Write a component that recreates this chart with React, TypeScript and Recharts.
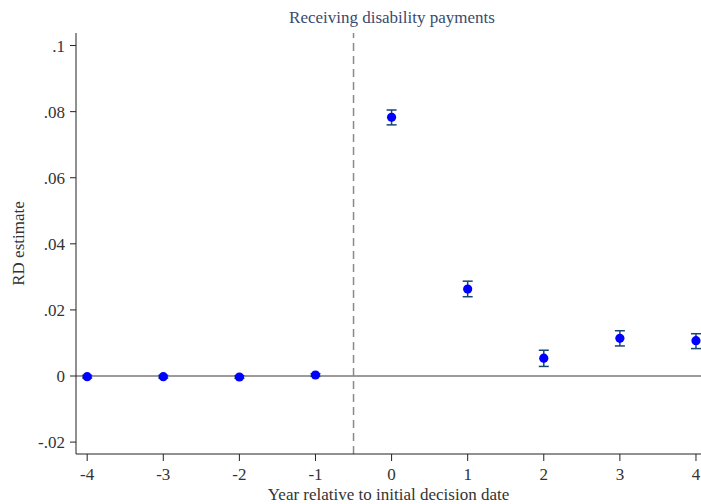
import {
  ScatterChart,
  Scatter,
  XAxis,
  YAxis,
  ReferenceLine,
  ErrorBar,
} from "recharts"

const years = [-4, -3, -2, -1, 0, 1, 2, 3, 4]
const estimates = [-0.0002, -0.0002, -0.0003, 0.0003, 0.0783, 0.0263, 0.0054, 0.0114, 0.0107]
const ciLow = [-0.0006, -0.0006, -0.0007, -0.0001, 0.076, 0.024, 0.0029, 0.0091, 0.0083]
const ciHigh = [0.0002, 0.0002, 0.0001, 0.0007, 0.0805, 0.0287, 0.0078, 0.0137, 0.0128]

const xTicks = [-4, -3, -2, -1, 0, 1, 2, 3, 4]
const yTicks = [-0.02, 0, 0.02, 0.04, 0.06, 0.08, 0.1]

const data = years.map((year, i) => ({
  year,
  est: estimates[i],
  err: [estimates[i] - ciLow[i], ciHigh[i] - estimates[i]],
}))

// stata style: ".08" instead of "0.08"
const fmtY = (v: number) => {
  if (v === 0) return "0"
  const s = String(+v.toFixed(2))
  return s.replace(/^(-?)0\./, "$1.")
}

const font = "Liberation Serif, Times New Roman, DejaVu Serif, serif"

const Dot = (props: any) => {
  const { cx, cy } = props
  return <circle cx={cx} cy={cy} r={4.6} fill="#0000ff" />
}
const NoDot = () => <g />

export default function App() {
  return (
    <div style={{ position: "absolute", left: 0, top: 0, width: 701, height: 504, background: "#fff", fontFamily: font }}>
      {/* title */}
      <div
        style={{
          position: "absolute",
          left: 0,
          width: 784,
          top: 8,
          textAlign: "center",
          fontSize: 17,
          color: "#3a4a6e",
          fontFamily: font,
        }}
      >
        Receiving disability payments
      </div>
      <ScatterChart
        width={701}
        height={504}
        margin={{ top: 33, right: 0, left: 0, bottom: 0 }}
        style={{ fontFamily: font }}
      >
        <XAxis
          type="number"
          dataKey="year"
          domain={[-4.147, 4.066]}
          ticks={xTicks}
          allowDataOverflow
          height={50}
          tickSize={7}
          tickMargin={7}
          tick={{ fontSize: 17, fill: "#333", fontFamily: font }}
          stroke="#222"
          label={{ value: "Year relative to initial decision date", position: "insideBottom", offset: 4, fontSize: 17, fill: "#333", fontFamily: font }}
        />
        <YAxis
          type="number"
          dataKey="est"
          domain={[-0.0236, 0.1038]}
          ticks={yTicks}
          allowDataOverflow
          width={76}
          tickSize={6}
          tickMargin={5}
          tickFormatter={fmtY}
          tick={{ fontSize: 17, fill: "#333", fontFamily: font }}
          stroke="#222"
          label={{ value: "RD estimate", angle: -90, position: "insideLeft", offset: 18, fontSize: 17, fill: "#333", fontFamily: font, style: { textAnchor: "middle" } }}
        />
        <ReferenceLine y={0} stroke="#7a7a7a" strokeWidth={1.5} />
        <ReferenceLine x={-0.5} stroke="#8a8a8a" strokeWidth={1.5} strokeDasharray="8 5" />
        {/* CI bars first, then the dots on top */}
        <Scatter data={data} shape={<NoDot />} isAnimationActive={false}>
          <ErrorBar dataKey="err" direction="y" width={5} stroke="#1a476f" strokeWidth={1.5} isAnimationActive={false} />
        </Scatter>
        <Scatter data={data} shape={<Dot />} isAnimationActive={false} />
      </ScatterChart>
    </div>
  )
}
